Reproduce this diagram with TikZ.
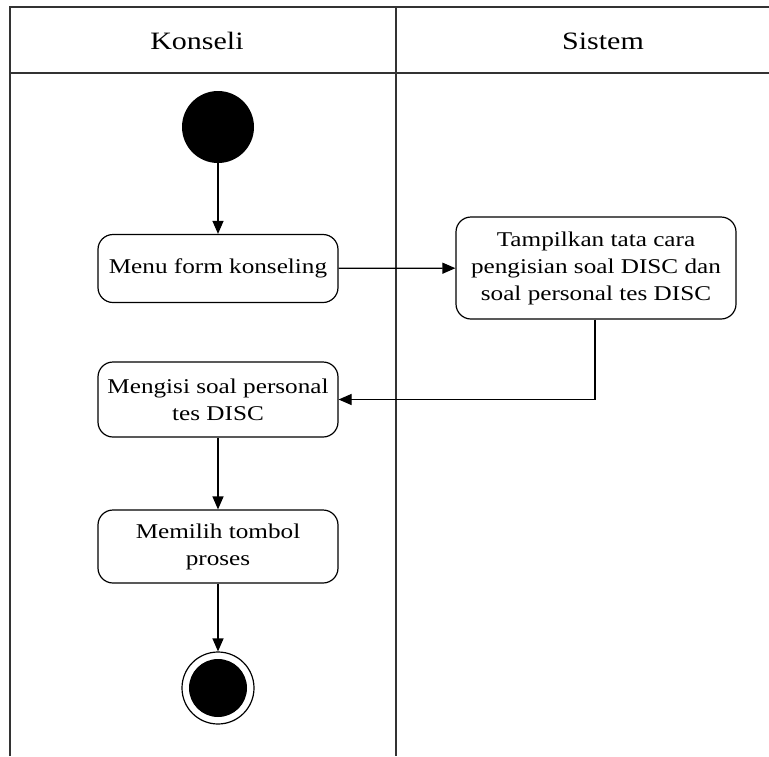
\documentclass[tikz,border=0pt]{standalone}
\usepackage{fontspec}
\setmainfont{Liberation Serif}[FakeStretch=1.2]
\usetikzlibrary{arrows.meta}
\begin{document}
\begin{tikzpicture}[x=1pt,y=-1pt,
  act/.style={draw, rounded corners=15pt, line width=1.2pt, align=center,
    font=\fontsize{21}{27}\selectfont, inner sep=0pt},
  flow/.style={-{Triangle[length=13pt,width=11pt]}, line width=1.2pt},
  lane/.style={line width=1.5pt, draw=black!80},
  head/.style={font=\fontsize{25}{28}\selectfont}]
\useasboundingbox (0,0) rectangle (769,756);

% swimlane frame
\draw[lane] (10,756) -- (10,7) -- (769,7);
\draw[lane] (10,73) -- (769,73);
\draw[lane] (396,7) -- (396,756);
\node[head] (hk) at (197,41) {Konseli};
\node[head] (hs) at (603,41) {Sistem};

% initial and final states
\node[circle, fill=black, minimum size=72pt, inner sep=0pt] (start) at (218,127) {};
\node[circle, draw, line width=1.2pt, minimum size=72pt, inner sep=0pt] (stop) at (218,688) {};
\node[circle, fill=black, minimum size=58pt, inner sep=0pt] (stopin) at (218,688) {};

% activities
\node[act, minimum width=240pt, minimum height=68pt] (menu) at (218,268.5) {Menu form konseling};
\node[act, minimum width=280pt, minimum height=102pt] (tampil) at (596,268) {Tampilkan tata cara\\pengisian soal DISC dan\\soal personal tes DISC};
\node[act, minimum width=240pt, minimum height=75pt] (isi) at (218,399.5) {Mengisi soal personal\\tes DISC};
\node[act, minimum width=240pt, minimum height=73pt] (pilih) at (218,546.5) {Memilih tombol\\proses};

% control flow
\draw[flow] (start) -- (menu);
\draw[flow] (menu) -- (tampil);
\draw[flow] (tampil.south -| 595,0) |- (isi.east);
\draw[flow] (isi) -- (pilih);
\draw[flow] (pilih) -- (stop);
\end{tikzpicture}
\end{document}
